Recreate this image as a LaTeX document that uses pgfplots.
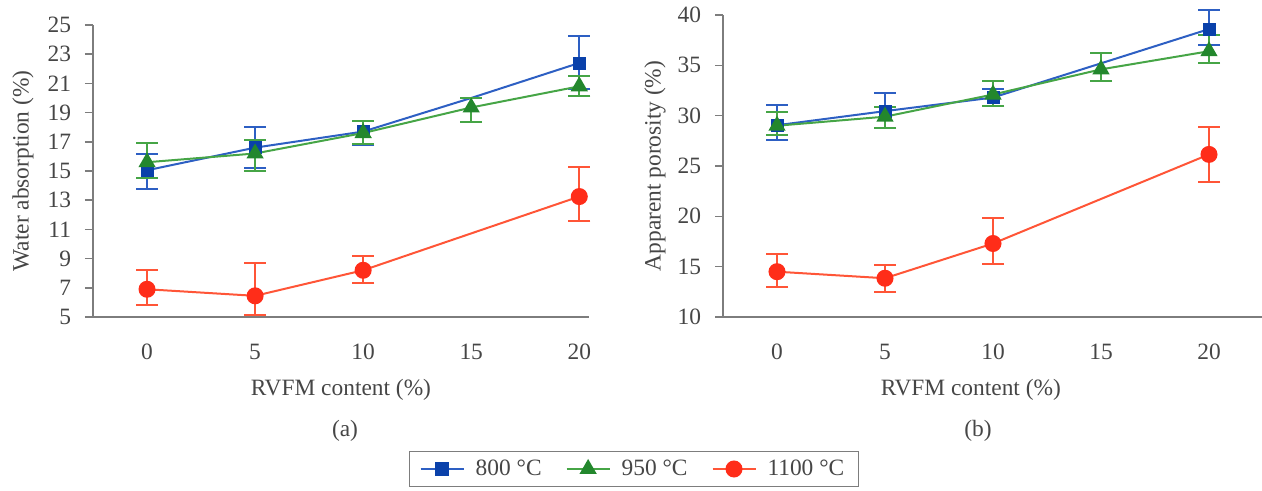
\documentclass[border=0pt]{standalone}
\usepackage{fontspec}
\setmainfont{Liberation Serif}
\usepackage{pgfplots}
\pgfplotsset{compat=1.18}
\usepackage{pgfplotstable}

\definecolor{bline}{RGB}{45,95,195}
\definecolor{bmark}{RGB}{10,65,170}
\definecolor{gline}{RGB}{70,165,70}
\definecolor{gmark}{RGB}{35,135,45}
\definecolor{rline}{RGB}{255,85,55}
\definecolor{rmark}{RGB}{255,45,25}
\definecolor{txt}{RGB}{70,70,70}
\definecolor{axc}{RGB}{125,125,125}

% Water absorption
\pgfplotstableread{
x y
0 15.05
1 16.6
2 17.7
3 20.0
4 22.4
}\waBline
\pgfplotstableread{
x y ep em
0 15.05 1.1 1.25
1 16.6 1.4 1.4
2 17.7 0.75 0.9
4 22.4 1.85 1.8
}\waB
\pgfplotstableread{
x y ep em
0 15.6 1.3 1.05
1 16.2 0.95 1.2
2 17.6 0.8 0.75
3 19.35 0.65 1.0
4 20.8 0.7 0.65
}\waG
\pgfplotstableread{
x y ep em
0 6.9 1.35 1.1
1 6.45 2.25 1.3
2 8.2 0.95 0.85
4 13.25 2.0 1.7
}\waR

% Apparent porosity
\pgfplotstableread{
x y
0 29.05
1 30.45
2 31.8
3 35.2
4 38.6
}\apBline
\pgfplotstableread{
x y ep em
0 29.05 2.0 1.5
1 30.45 1.85 1.65
2 31.8 0.8 0.85
4 38.6 1.9 1.6
}\apB
\pgfplotstableread{
x y ep em
0 29.0 1.35 0.95
1 29.9 1.0 1.15
2 32.1 1.35 1.15
3 34.6 1.6 1.15
4 36.4 1.65 1.2
}\apG
\pgfplotstableread{
x y ep em
0 14.5 1.8 1.55
1 13.85 1.3 1.35
2 17.3 2.5 2.0
4 26.15 2.7 2.7
}\apR

\newcommand{\myfont}{\rmfamily\fontsize{11.7bp}{14bp}\selectfont}

\pgfplotsset{
  mystyle/.style={
    scale only axis,
    axis x line*=bottom, axis y line*=left,
    axis line style={axc, line width=0.8bp},
    every tick/.style={axc, line width=0.8bp},
    tick align=outside,
    major tick length=4bp,
    xtick={0,1,2,3,4},
    xticklabels={0,5,10,15,20},
    minor xtick={-0.5,0.5,1.5,2.5,3.5},
    minor tick length=4bp,
    xtick style={draw=none},
    minor x tick style={axc, line width=0.8bp},
    xmin=-0.5,
    tick label style={font=\myfont, text=txt},
    label style={font=\myfont, text=txt},
    xticklabel style={yshift=-6bp},
    yticklabel style={xshift=-3.5bp},
    /pgf/number format/assume math mode=true,
    clip=false,
  },
  eb/.style={error bars/.cd, y dir=both, y explicit,
    error bar style={#1, line width=1bp},
    error mark options={#1, rotate=90, mark size=5.5bp, line width=1bp}},
}

\begin{document}
\begin{tikzpicture}
\begin{axis}[mystyle,
  at={(46.5bp,87bp)}, anchor=south west,
  width=248bp, height=146bp,
  xmax=4.09, ymin=5, ymax=25,
  ytick={5,7,...,25},
  xlabel={RVFM content (\%)},
  xlabel style={at={(axis description cs:0.5,0)}, anchor=center, yshift=-36.5bp},
  ylabel={Water absorption (\%)},
  ylabel style={at={(axis description cs:-0.141,0.5)}, anchor=center, rotate=0},
  legend image code/.code={\draw[#1, mark repeat=2, mark phase=2] plot coordinates {(0bp,0bp)(10.75bp,0bp)(21.5bp,0bp)};},
  legend columns=3,
  legend style={at={(axis description cs:1.0907,-0.5205)}, anchor=center,
    draw=axc, line width=0.7bp, inner xsep=5bp, inner ysep=2bp,
    font=\myfont, text=txt,
    /tikz/every odd column/.append style={column sep=3.5bp},
    /tikz/every even column/.append style={column sep=10bp}},
]
\addplot[bline, line width=1bp, no marks, forget plot] table[x=x,y=y]{\waBline};
\addplot[only marks, mark=square*, mark size=3bp, mark options={bmark}, forget plot, eb=bline]
  table[x=x,y=y,y error plus=ep,y error minus=em]{\waB};
\addplot[gline, line width=1bp, mark=triangle*, mark size=4bp, mark options={gmark}, forget plot, eb=gline]
  table[x=x,y=y,y error plus=ep,y error minus=em]{\waG};
\addplot[rline, line width=1bp, mark=*, mark size=3.75bp, mark options={rmark}, forget plot, eb=rline]
  table[x=x,y=y,y error plus=ep,y error minus=em]{\waR};
\addlegendimage{bline, line width=1bp, mark=square*, mark options={bmark, mark size=3bp}}
\addlegendimage{gline, line width=1bp, mark=triangle*, mark options={gmark, mark size=4bp}}
\addlegendimage{rline, line width=1bp, mark=*, mark options={rmark, mark size=3.75bp}}
\legend{800 °C, 950 °C, 1100 °C}
\end{axis}

\begin{axis}[mystyle,
  at={(361.5bp,87bp)}, anchor=south west,
  width=270bp, height=151bp,
  xmax=4.5, ymin=10, ymax=40,
  ytick={10,15,...,40},
  xlabel={RVFM content (\%)},
  xlabel style={at={(axis description cs:0.459,0)}, anchor=center, yshift=-36.5bp},
  ylabel={Apparent porosity (\%)},
  ylabel style={at={(axis description cs:-0.126,0.5)}, anchor=center, rotate=0},
]
\addplot[bline, line width=1bp, no marks] table[x=x,y=y]{\apBline};
\addplot[only marks, mark=square*, mark size=3bp, mark options={bmark}, eb=bline]
  table[x=x,y=y,y error plus=ep,y error minus=em]{\apB};
\addplot[gline, line width=1bp, mark=triangle*, mark size=4bp, mark options={gmark}, eb=gline]
  table[x=x,y=y,y error plus=ep,y error minus=em]{\apG};
\addplot[rline, line width=1bp, mark=*, mark size=3.75bp, mark options={rmark}, eb=rline]
  table[x=x,y=y,y error plus=ep,y error minus=em]{\apR};
\end{axis}

\node[font=\myfont, text=txt] at (172.5bp,30bp) {(a)};
\node[font=\myfont, text=txt] at (489bp,30bp) {(b)};

\pgfresetboundingbox
\useasboundingbox (0,0) rectangle (631bp,245.5bp);
\end{tikzpicture}
\end{document}
